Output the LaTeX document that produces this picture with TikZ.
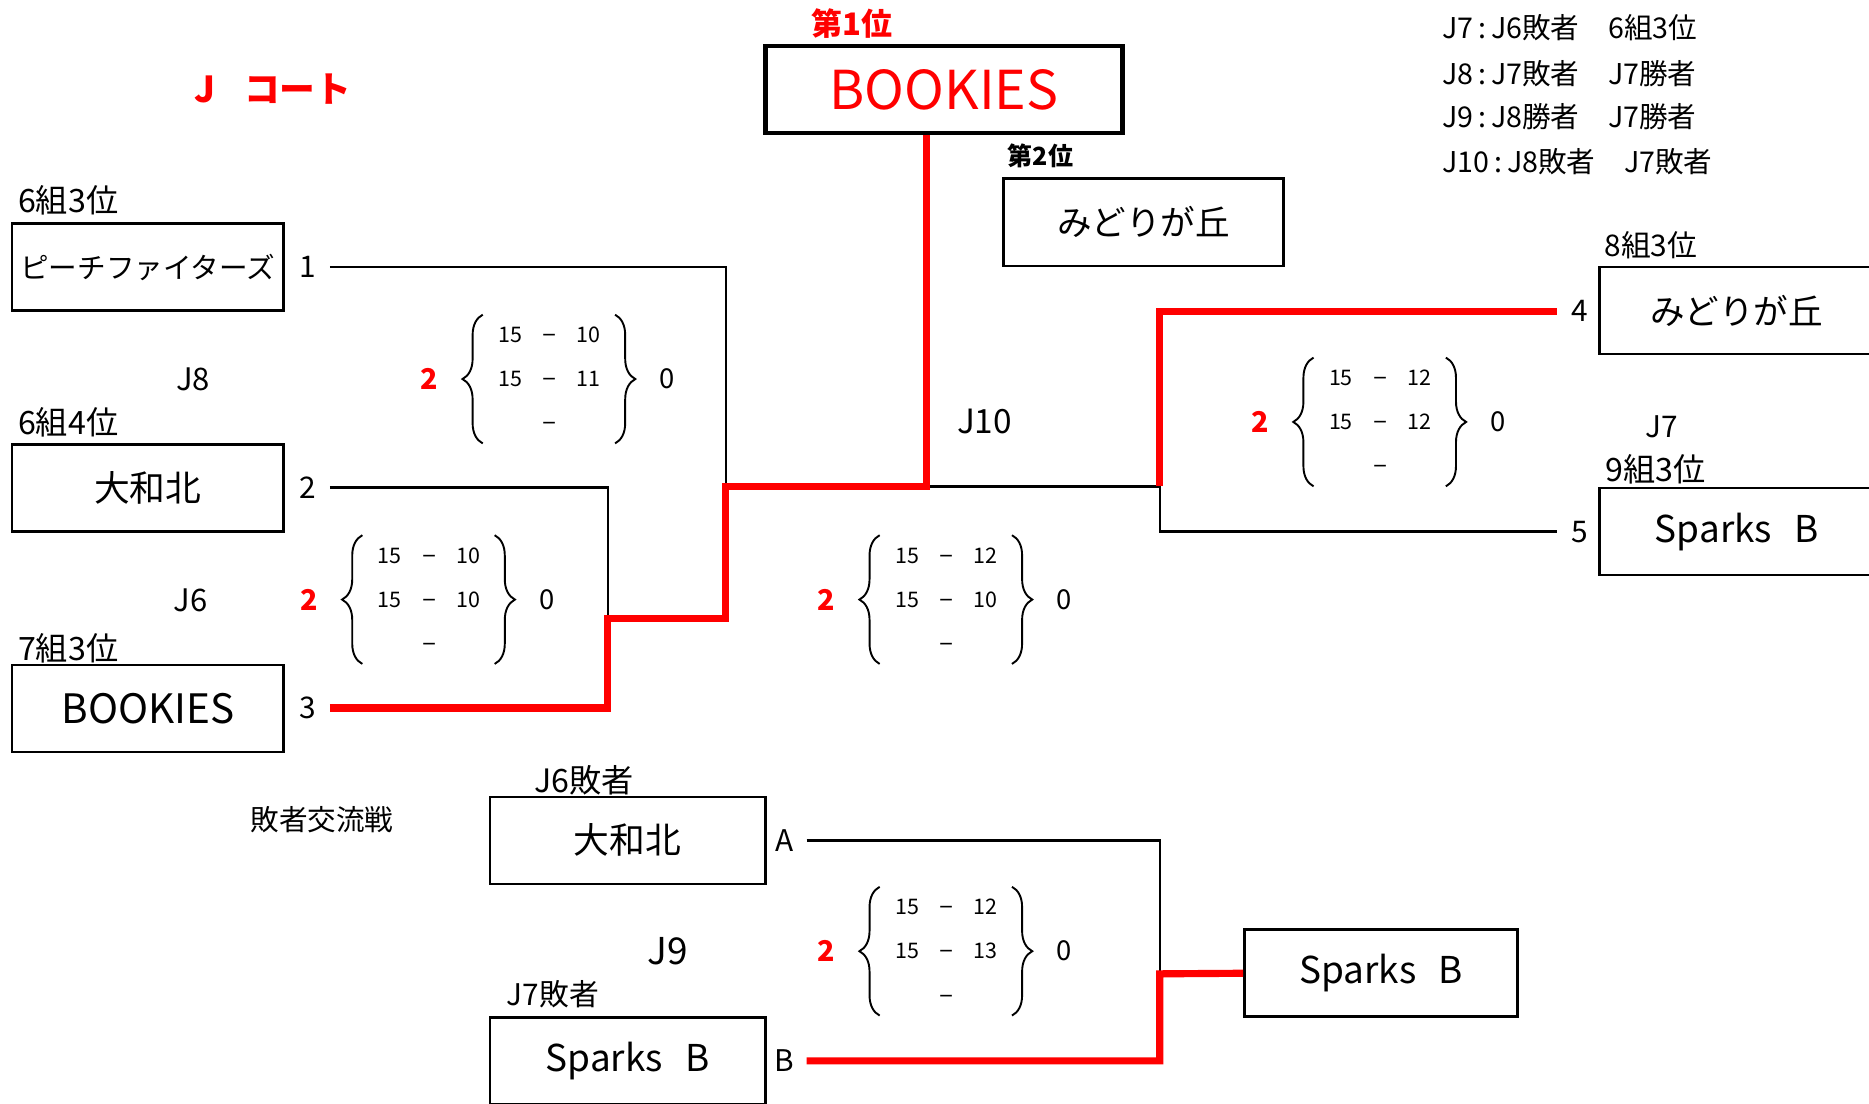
\documentclass[tikz,border=0pt]{standalone}
\usepackage{fontspec}
\setmainfont{Noto Sans CJK JP}
\usetikzlibrary{decorations.pathreplacing}
\definecolor{winred}{RGB}{255,0,0}
\newcommand{\fs}[1]{\fontsize{#1}{#1}\selectfont}
% one game: sets won, points of the three sets, sets lost
\newcommand{\scoreset}[6]{%
  \begin{scope}[shift={(#2)}]
    \node[setwin] (#1w) at (-101,0) {2};
    \node[setlose] (#1l) at (99,0) {0};
    \node[pts] (#1a) at (-33,-37) {#3};
    \node[pts] (#1b) at (33,-37) {#4};
    \node[pts] (#1c) at (-33,0) {#5};
    \node[pts] (#1d) at (33,0) {#6};
    \node[pts,font=\fs{22}] (#1x) at (0,-37) {–};
    \node[pts,font=\fs{22}] (#1y) at (0,0) {–};
    \node[pts,font=\fs{22}] (#1z) at (0,37) {–};
    \draw[brc] (-56,54) -- (-56,-54);
    \draw[brc] (55,-54) -- (55,54);
  \end{scope}}
\begin{document}
\begin{tikzpicture}[x=1pt,y=-1pt,
    team/.style={draw,line width=2.2pt,minimum width=228pt,minimum height=73pt,inner sep=0pt,font=\fs{30}},
    seed/.style={inner sep=0pt,minimum width=37pt,font=\fs{25}},
    grp/.style={anchor=west,inner sep=0pt,font=\fs{27}},
    game/.style={inner sep=0pt,font=\fs{27}},
    pts/.style={inner sep=0pt,text height=13pt,text depth=0pt,font=\fs{18}},
    setwin/.style={inner sep=0pt,text=winred,font=\bfseries\fs{24}},
    setlose/.style={inner sep=0pt,font=\fs{23}},
    brc/.style={decorate,decoration={brace,amplitude=17pt},line width=1.6pt},
    bline/.style={line width=2pt},
    rline/.style={line width=6pt,draw=winred}]
  \useasboundingbox (0,0) rectangle (1568,926);
  \clip (0,0) rectangle (1568,926);

  % titles and notes
  \node[grp,text=winred,font=\bfseries\fs{30}] (court) at (163,75) {J\hspace{0.8em}コート};
  \node[inner sep=0pt,text=winred,font=\bfseries\fs{26}] (first) at (715,20) {第1位};
  \node[inner sep=0pt,font=\bfseries\fs{21}] (secondlbl) at (873,131) {第2位};
  \node[grp,font=\fs{24}] (note7) at (1210,23) {J7\,:\,J6敗者　6組3位};
  \node[grp,font=\fs{24}] (note8) at (1210,62) {J8\,:\,J7敗者　J7勝者};
  \node[grp,font=\fs{24}] (note9) at (1210,98) {J9\,:\,J8勝者　J7勝者};
  \node[grp,font=\fs{24}] (note10) at (1210,136) {J10\,:\,J8敗者　J7敗者};
  \node[grp,font=\fs{24}] (loser) at (210,688) {敗者交流戦};

  % final places
  \node[team,minimum width=300pt,line width=4pt,text=winred,font=\fs{45}] (champ) at (792,75) {BOOKIES};
  \node[team,minimum width=235pt,font=\fs{29}] (second) at (959.5,186.5) {みどりが丘};

  % teams
  \node[grp] (g1) at (15,168) {6組3位};
  \node[team,font=\fs{24}] (t1) at (124,224) {ピーチファイターズ};
  \node[grp] (g2) at (15,354) {6組4位};
  \node[team] (t2) at (124,409.5) {大和北};
  \node[grp] (g3) at (15,544) {7組3位};
  \node[team,font=\fs{34}] (t3) at (124,594.5) {BOOKIES};
  \node[grp,font=\fs{25}] (g4) at (1346,206) {8組3位};
  \node[team,minimum width=230pt,font=\fs{29}] (t4) at (1457,260.5) {みどりが丘};
  \node[grp] (g5) at (1347,394) {9組3位};
  \node[team,minimum width=230pt,font=\fs{31}] (t5) at (1457,446) {Sparks\hspace{0.6em}B};
  \node[grp] (gA) at (448,655) {J6敗者};
  \node[team,minimum width=231pt] (tA) at (526.5,705) {大和北};
  \node[grp,font=\fs{25}] (gB) at (425,834) {J7敗者};
  \node[team,minimum width=231pt,font=\fs{31}] (tB) at (526.5,890) {Sparks\hspace{0.6em}B};
  \node[team,minimum width=229pt,font=\fs{31}] (j9win) at (1158.5,816.5) {Sparks\hspace{0.6em}B};

  % seed numbers
  \node[seed] (n1) at (258,224) {1};
  \node[seed] (n2) at (258,409) {2};
  \node[seed] (n3) at (258,594) {3};
  \node[seed] (n4) at (1325,261) {4};
  \node[seed] (n5) at (1325,446) {5};
  \node[seed] (nA) at (658,705) {A};
  \node[seed] (nB) at (658,890) {B};

  % game labels
  \node[game,font=\fs{26}] (J8) at (162,318) {J8};
  \node[game,font=\fs{26}] (J6) at (160,504) {J6};
  \node[game,font=\fs{28}] (J10) at (826,354) {J10};
  \node[game,font=\fs{25}] (J7) at (1394,358) {J7};
  \node[game,font=\fs{31}] (J9) at (560,798) {J9};

  % scores
  \scoreset{s8}{461,318}{15}{10}{15}{11}
  \scoreset{s6}{360,503}{15}{10}{15}{10}
  \scoreset{s10}{794,503}{15}{12}{15}{10}
  \scoreset{s7}{1158,354}{15}{12}{15}{12}
  \scoreset{s9}{794,798}{15}{12}{15}{13}

  % bracket
  \coordinate (m8) at (609,408);
  \coordinate (m6) at (510,519);
  \coordinate (m10) at (777,408);
  \coordinate (m7) at (973,408);
  \coordinate (m9) at (973,817);
  \begin{scope}[bline]
    \draw (n1.east) -| (m8);
    \draw (n2.east) -| (m6);
    \draw (m10) -- (m7) |- (n5.west);
    \draw (nA.east) -| (m9);
  \end{scope}
  \begin{scope}[rline]
    \draw (n3.east) -| (m6) -| (m8) -- (m10) -- (m10 |- champ.south);
    \draw (m7) |- (n4.west);
    \draw (nB.east) -| (m9) -- (j9win.west);
  \end{scope}
\end{tikzpicture}
\end{document}
